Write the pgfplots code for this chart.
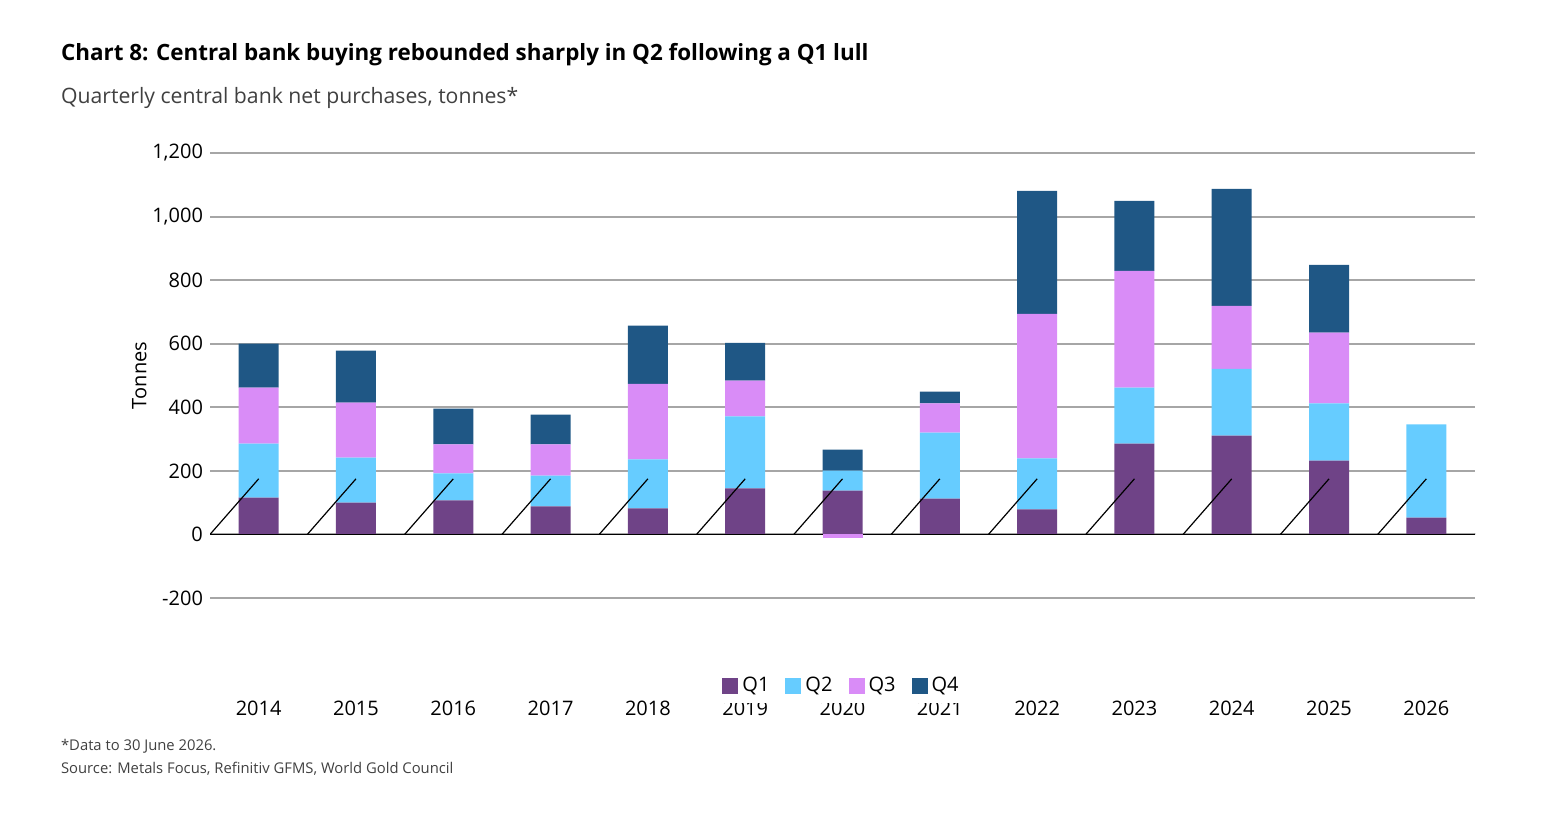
\documentclass[border=0pt]{standalone}
\usepackage{pgfplots}
\pgfplotsset{compat=1.18}
\usepackage{fontspec}
\setmainfont{Open Sans}
\definecolor{qa}{HTML}{6F4387}
\definecolor{qb}{HTML}{66CCFF}
\definecolor{qc}{HTML}{D98CF7}
\definecolor{qd}{HTML}{1F5785}
\definecolor{gr}{HTML}{A6A6A6}
\pgfplotsset{base/.style={
  scale only axis, width=632.5pt, height=222.5pt,
  xmin=-0.5, xmax=12.5, ymin=-200, ymax=1200,
  at={(105pt,107.5pt)}, anchor=south west,
  ybar stacked, bar width=20pt,
}}
\begin{document}
\begin{tikzpicture}
\path (0,0) rectangle (779pt,406.5pt);
\node[anchor=west,font=\fontsize{11.2}{13}\selectfont\bfseries] at (27pt,379pt) {Chart 8: Central bank buying rebounded sharply in Q2 following a Q1 lull};
\node[anchor=west,font=\fontsize{10.6}{13}\selectfont,text=black!75] at (27pt,357.5pt) {Quarterly central bank net purchases, tonnes*};
\node[anchor=west,font=\fontsize{7.4}{9}\selectfont,text=black!75] at (27pt,33.5pt) {*Data to 30 June 2026.};
\node[anchor=west,font=\fontsize{7.4}{9}\selectfont,text=black!75] at (27pt,22pt) {Source: Metals Focus, Refinitiv GFMS, World Gold Council};
\begin{axis}[base,
  axis line style={draw=none}, tick style={draw=none},
  ymajorgrids, grid style={gr,line width=1pt},
  ytick={-200,0,...,1200},
  yticklabel style={/pgf/number format/.cd,1000 sep={,},assume math mode=true},
  ticklabel style={font=\fontsize{10}{12}\selectfont},
  xtick={0,...,12}, xticklabels={2014,2015,2016,2017,2018,2019,2020,2021,2022,2023,2024,2025,2026},
  xticklabel style={yshift=-48pt},
  ylabel={Tonnes}, ylabel style={font=\fontsize{10}{12}\selectfont, yshift=-4pt},
  legend columns=4,
  legend style={draw=none, at={(0.5,-0.198)}, anchor=center, font=\fontsize{10}{12}\selectfont, /tikz/every even column/.append style={column sep=6pt}},
  legend image code/.code={\fill[#1] (0pt,-4pt) rectangle (8pt,4pt);},
]
\addplot[fill=qa,draw=none] coordinates {(0,116)(1,100)(2,107)(3,88)(4,82)(5,145)(6,138)(7,113)(8,79)(9,286)(10,311)(11,232)(12,53)};
\addplot[fill=qb,draw=none] coordinates {(0,170)(1,142)(2,85)(3,97)(4,154)(5,226)(6,63)(7,207)(8,160)(9,176)(10,210)(11,180)(12,293)};
\addplot[fill=qc,draw=none] coordinates {(0,176)(1,173)(2,91)(3,98)(4,238)(5,113)(6,0)(7,92)(8,455)(9,367)(10,198)(11,223)(12,0)};
\addplot[fill=qd,draw=none] coordinates {(0,138)(1,163)(2,113)(3,94)(4,183)(5,119)(6,66)(7,37)(8,387)(9,220)(10,368)(11,213)(12,0)};
\legend{Q1,Q2,Q3,Q4}
\end{axis}
\begin{axis}[base, axis lines=none, ticks=none]
\addplot[fill=qc,draw=none] coordinates {(6,-12)};
\draw[black,line width=0.6pt] (axis cs:-0.5,0) -- (axis cs:12.5,0);
\pgfplotsinvokeforeach{-0.5,0.5,...,12.5}{\draw[black,line width=0.6pt] (axis cs:#1,0) -- ++(0,-4pt);}
\end{axis}
\end{tikzpicture}
\end{document}
